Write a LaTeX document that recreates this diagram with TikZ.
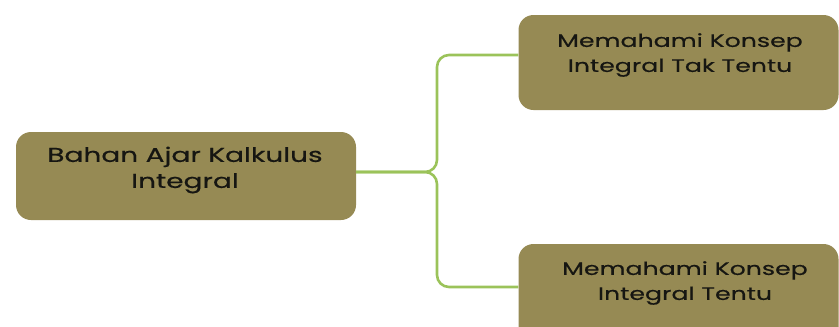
\documentclass[tikz,border=0pt]{standalone}
\usepackage{fontspec}
\setmainfont{Poppins}
\newfontfamily\lblfont{Poppins}[FakeStretch=1.4,FakeBold=0.5]
\definecolor{boxfill}{RGB}{150,138,84}
\definecolor{linkgreen}{RGB}{155,195,90}
\definecolor{txt}{RGB}{22,22,18}
\begin{document}
\begin{tikzpicture}[x=1pt,y=-1pt,
  box/.style={draw=none,fill=boxfill,rounded corners=15pt,inner sep=0pt},
  lbl/.style={text=txt,align=center,font=\lblfont\fontsize{20}{26}\selectfont,inner sep=0pt},
  lbls/.style={lbl,font=\lblfont\fontsize{18}{25}\selectfont},
  link/.style={draw=linkgreen,line width=2.6pt,rounded corners=12pt}]
\useasboundingbox (0,0) rectangle (839,327);
\clip (0,0) rectangle (839,327);
\node[box,minimum width=340pt,minimum height=88pt] (L) at (186,176) {};
\node[lbl] (Lt) at (185,170) {Bahan Ajar Kalkulus\\Integral};
\node[box,minimum width=320pt,minimum height=95pt] (T) at (678.5,62.5) {};
\node[lbls] (Tt) at (680,55) {Memahami Konsep\\Integral Tak Tentu};
\node[box,minimum width=320pt,minimum height=100pt] (B) at (678.5,294) {};
\node[lbls] (Bt) at (685,283) {Memahami Konsep\\Integral Tentu};
\coordinate (ta) at (T.west |- 0,55);
\coordinate (ba) at (B.west |- 0,287);
\coordinate (mid) at (L.east |- 0,172);
\draw[link] (mid) -- (437,172) -- (437,55) -- (ta);
\draw[link] (mid) -- (437,172) -- (437,287) -- (ba);
\end{tikzpicture}
\end{document}
